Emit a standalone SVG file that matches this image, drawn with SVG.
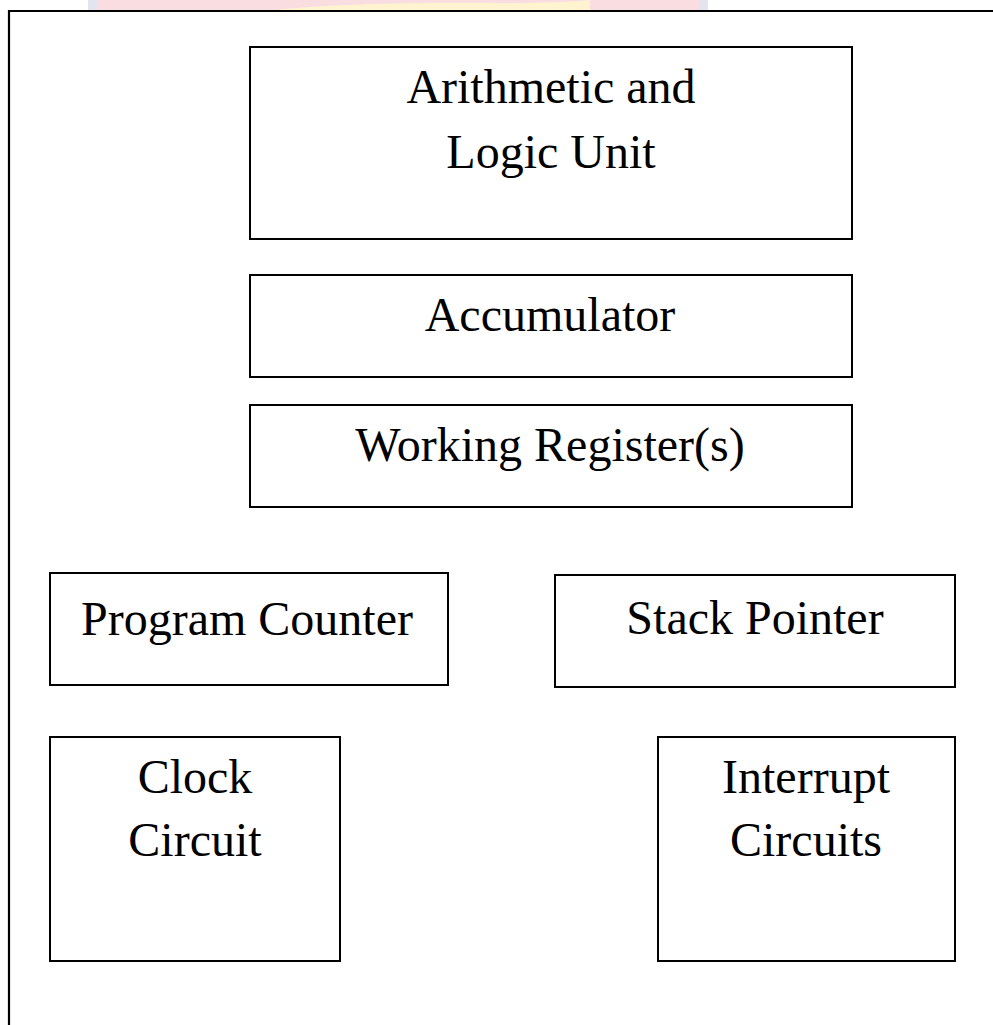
<svg xmlns="http://www.w3.org/2000/svg" width="993" height="1025" viewBox="0 0 993 1025">
  <style>
    .box { fill: #ffffff; stroke: #000000; stroke-width: 2; }
    .frame { fill: none; stroke: #000000; stroke-width: 2.2; }
    .label { font-family: "Liberation Serif", "Times New Roman", serif; font-size: 48px; fill: #000000; text-anchor: middle; }
  </style>

  <rect x="0" y="0" width="993" height="1025" fill="#ffffff"/>

  <!-- faint banner strip along the top edge -->
  <g id="banner">
    <rect x="88" y="0" width="620" height="10" fill="#f9dde0"/>
    <rect x="88" y="0" width="9" height="10" fill="#e2e4ee"/>
    <rect x="699" y="0" width="9" height="10" fill="#e2e4ee"/>
    <path d="M276,10 C330,4 420,2 500,3 C540,3 570,2 590,0 L590,10 Z" fill="#fff4cf"/>
  </g>

  <!-- outer frame: top and left edges only -->
  <path class="frame" d="M9,1025 V11 H993"/>

  <g id="alu">
    <rect class="box" x="250" y="47" width="602" height="192"/>
    <text class="label" x="551" y="103">Arithmetic and</text>
    <text class="label" x="551" y="168">Logic Unit</text>
  </g>

  <g id="accumulator">
    <rect class="box" x="250" y="275" width="602" height="102"/>
    <text class="label" x="550" y="331">Accumulator</text>
  </g>

  <g id="working-registers">
    <rect class="box" x="250" y="405" width="602" height="102"/>
    <text class="label" x="550" y="461">Working Register(s)</text>
  </g>

  <g id="program-counter">
    <rect class="box" x="50" y="573" width="398" height="112"/>
    <text class="label" x="247" y="635">Program Counter</text>
  </g>

  <g id="stack-pointer">
    <rect class="box" x="555" y="575" width="400" height="112"/>
    <text class="label" x="755" y="634">Stack Pointer</text>
  </g>

  <g id="clock-circuit">
    <rect class="box" x="50" y="737" width="290" height="224"/>
    <text class="label" x="195" y="793">Clock</text>
    <text class="label" x="195" y="856">Circuit</text>
  </g>

  <g id="interrupt-circuits">
    <rect class="box" x="658" y="737" width="297" height="224"/>
    <text class="label" x="806" y="793">Interrupt</text>
    <text class="label" x="806" y="856">Circuits</text>
  </g>

  <g id="connectors"></g>
</svg>
